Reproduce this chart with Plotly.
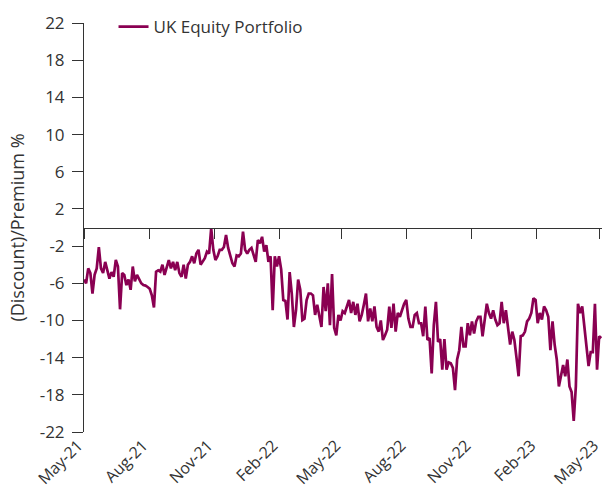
import pandas as pd
import plotly.graph_objects as go

series_name = "UK Equity Portfolio"
start_date = "2021-05-01"
values = [
    -5.6, -6.0, -4.4, -4.9, -7.1, -5.1, -4.4, -2.1, -4.4, -4.9,
    -3.7, -4.6, -5.5, -4.8, -5.3, -3.5, -4.2, -8.8, -4.9, -5.1,
    -6.2, -5.6, -6.7, -4.2, -5.8, -5.1, -5.6, -6.0, -6.2, -6.25,
    -6.4, -6.6, -7.3, -8.6, -4.75, -4.6, -4.75, -4.0, -5.1, -4.2,
    -3.5, -4.4, -3.7, -4.6, -3.7, -4.9, -5.3, -4.0, -5.5, -4.0,
    -3.7, -3.1, -3.85, -2.8, -2.4, -4.0, -3.7, -3.3, -2.6, -2.8,
    -0.1, -2.4, -3.5, -3.1, -2.4, -2.4, -2.1, -0.8, -2.2, -3.1,
    -3.85, -4.2, -3.0, -3.1, -2.8, -0.45, -2.4, -2.8, -2.4, -2.2,
    -3.0, -3.7, -1.35, -1.7, -1.0, -2.6, -1.9, -3.7, -3.1, -8.9,
    -3.1, -4.2, -3.1, -4.5, -7.8, -7.9, -9.9, -4.8, -7.1, -10.7,
    -8.9, -5.6, -6.7, -9.95, -9.8, -7.8, -7.1, -7.1, -7.3, -9.4,
    -8.3, -9.4, -10.7, -6.4, -9.0, -6.0, -10.5, -5.0, -10.8, -11.6,
    -9.4, -10.0, -9.0, -9.2, -8.5, -7.8, -9.2, -8.0, -9.4, -8.2,
    -10.1, -9.4, -8.3, -7.1, -10.1, -8.7, -10.1, -8.5, -10.7, -11.2,
    -10.0, -12.1, -11.6, -11.0, -8.5, -10.8, -8.2, -11.2, -9.2, -9.6,
    -8.9, -8.2, -7.8, -9.8, -10.7, -10.7, -9.4, -9.2, -10.3, -10.3,
    -11.7, -8.5, -12.1, -11.9, -15.7, -10.5, -8.0, -12.3, -12.0, -15.3,
    -12.0, -15.3, -14.5, -14.6, -15.1, -17.5, -14.2, -13.2, -10.7, -12.8,
    -12.8, -10.3, -11.6, -10.1, -11.4, -10.1, -9.6, -9.6, -11.7, -9.9,
    -8.2, -9.2, -9.8, -8.9, -9.9, -10.5, -10.3, -8.0, -10.3, -8.9,
    -10.7, -12.6, -11.2, -12.1, -14.0, -16.0, -11.7, -11.6, -11.2, -10.1,
    -9.8, -9.2, -7.6, -7.8, -10.3, -9.2, -9.9, -8.5, -8.9, -9.6,
    -13.2, -10.1, -12.6, -14.2, -17.1, -16.0, -14.8, -16.0, -14.2, -17.1,
    -17.7, -20.8, -17.1, -8.2, -9.2, -8.5, -10.7, -13.2, -14.9, -13.4,
    -13.4, -8.2, -15.3, -11.7, -11.9,
]
dates = pd.date_range(start_date, periods=len(values), freq="3D")

tick_dates = ["2021-05-01", "2021-08-01", "2021-11-01", "2022-02-01", "2022-05-01",
              "2022-08-01", "2022-11-01", "2023-02-01", "2023-05-01"]
tick_labels = ["May-21", "Aug-21", "Nov-21", "Feb-22", "May-22",
               "Aug-22", "Nov-22", "Feb-23", "May-23"]
y_ticks = [22, 18, 14, 10, 6, 2, -2, -6, -10, -14, -18, -22]
y_tick_labels = ["22", "18", "14", "10", "6", "2", "-2", "-6", "-10", "-14", "-18", "-22"]
x_range = ["2021-05-01", "2023-05-04"]
y_range = [-22, 22]

LINE = "#8a0052"
AX = "#333333"
FONT = "Open Sans, Noto Sans, sans-serif"

fig = go.Figure()
fig.add_trace(go.Scatter(x=dates, y=values, mode="lines", name=series_name,
                         line=dict(color=LINE, width=2.7), xaxis="x", yaxis="y"))
fig.add_trace(go.Scatter(x=[dates[0], dates[-1]], y=[None, None], mode="lines",
                         showlegend=False, hoverinfo="skip", xaxis="x2", yaxis="y"))

fig.update_layout(
    width=613, height=489,
    margin=dict(l=84, r=11, t=23, b=57, autoexpand=False),
    paper_bgcolor="white", plot_bgcolor="white",
    font=dict(family=FONT, size=17, color=AX),
    showlegend=True,
    legend=dict(x=0.057, y=0.99, xanchor="left", yanchor="middle",
                bgcolor="rgba(0,0,0,0)", font=dict(size=17, color=AX)),
    xaxis=dict(type="date", range=x_range, tickvals=tick_dates, ticktext=tick_labels,
               tickangle=-45, showline=False, ticks="", showgrid=False, zeroline=False,
               ticklabelshift=-6, ticklabelstandoff=0,
               tickfont=dict(size=16, color=AX)),
    xaxis2=dict(type="date", range=x_range, overlaying="x", anchor="free", position=0.5,
                tickvals=tick_dates, showticklabels=False, ticks="outside", ticklen=10,
                tickcolor=AX, showline=True, linecolor=AX, linewidth=1, showgrid=False,
                zeroline=False),
    yaxis=dict(range=y_range, tickvals=y_ticks, ticktext=y_tick_labels, ticks="outside",
               ticklen=11, tickcolor=AX, ticklabelstandoff=4,
               showline=True, linecolor=AX, linewidth=1, showgrid=False, zeroline=False,
               tickfont=dict(size=17, color=AX),
               title=dict(text="(Discount)/Premium %", font=dict(size=18, color=AX), standoff=10)),
)

fig.write_html("out.html", config={"displayModeBar": False},
               post_script="document.body.style.margin='0';document.body.style.overflow='hidden';")
